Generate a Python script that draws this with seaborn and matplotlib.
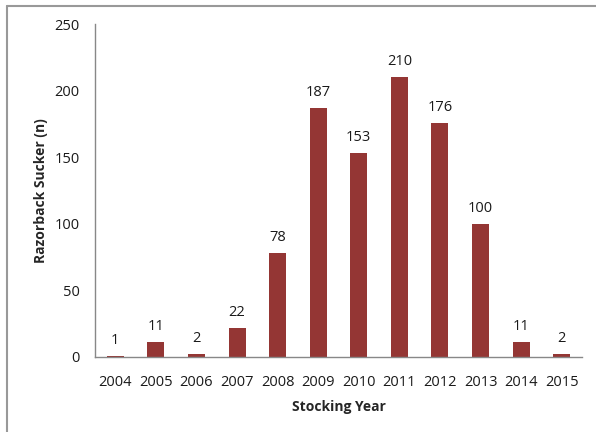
import matplotlib
matplotlib.use("Agg")
import matplotlib.pyplot as plt
import seaborn as sns
import pandas as pd
from matplotlib.lines import Line2D

years = ["2004", "2005", "2006", "2007", "2008", "2009", "2010", "2011", "2012", "2013", "2014", "2015"]
counts = [1, 11, 2, 22, 78, 187, 153, 210, 176, 100, 11, 2]

df = pd.DataFrame({"year": years, "count": counts})

sns.set_style("white")
plt.rcParams["font.family"] = ["Open Sans", "DejaVu Sans"]

fig = plt.figure(figsize=(5.96, 4.32), dpi=100)
ax = fig.add_axes([95/596, 75/432, (582-95)/596, (357-24)/432])

sns.barplot(data=df, x="year", y="count", color="#943634", width=0.42,
            saturation=1, ax=ax, edgecolor="none")

for i, v in enumerate(counts):
    ax.text(i, v + 6, str(v), ha="center", va="bottom", fontsize=10.5, color="#1a1a1a")

ax.set_ylim(0, 250)
ax.set_xlim(-0.5, 11.5)
ax.set_yticks([0, 50, 100, 150, 200, 250])
ax.set_xticks(range(12))
ax.set_xticks([i - 0.5 for i in range(13)], minor=True)
ax.tick_params(axis="x", which="major", length=0, pad=13, labelsize=10.5, colors="#1a1a1a")
ax.tick_params(axis="x", which="minor", length=5, width=1, color="#888888", direction="out")
ax.tick_params(axis="y", length=5, width=1, color="#888888", direction="out", pad=6,
               labelsize=10.5, labelcolor="#1a1a1a")
for s in ["top", "right"]:
    ax.spines[s].set_visible(False)
for s in ["left", "bottom"]:
    ax.spines[s].set_color("#888888")
    ax.spines[s].set_linewidth(1)

ax.set_xlabel("Stocking Year", fontsize=10, fontweight="bold", labelpad=7)
ax.set_ylabel("Razorback Sucker (n)", fontsize=10, fontweight="bold", labelpad=5)

fig.add_artist(Line2D([6.5/596, 6.5/596], [0, 1 - 5.5/432], transform=fig.transFigure,
                      color="#999999", lw=1.5))
fig.add_artist(Line2D([6.5/596, 1], [1 - 5.5/432, 1 - 5.5/432], transform=fig.transFigure,
                      color="#999999", lw=1.5))

fig.savefig("out.png", dpi=100)
